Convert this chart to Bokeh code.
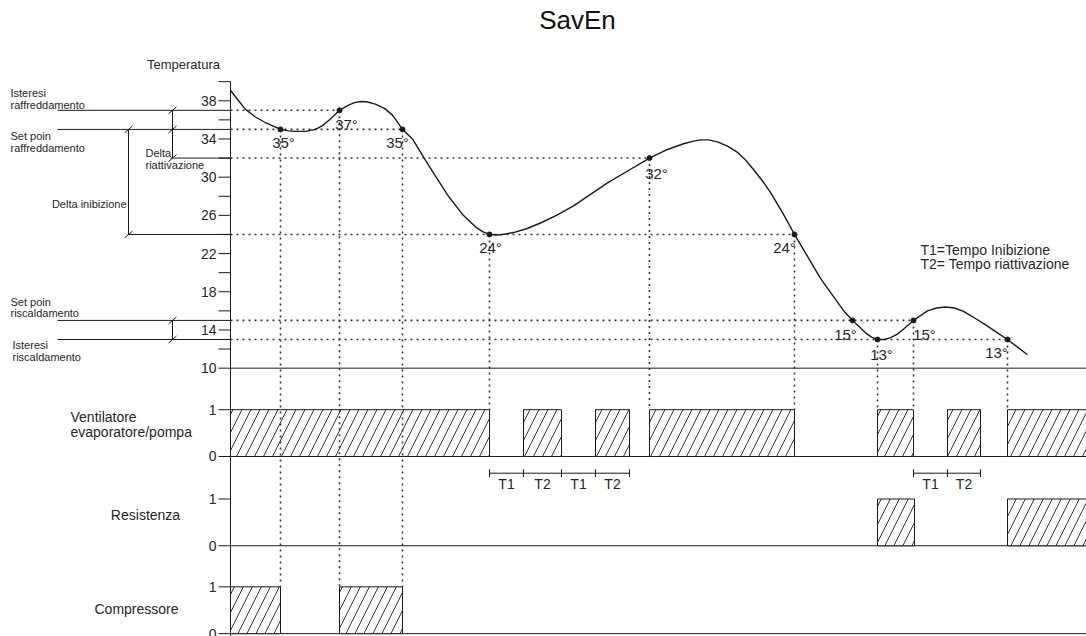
from bokeh.plotting import figure
from bokeh.models import Range1d, ColumnDataSource
from bokeh.core.properties import value
from bokeh.embed import file_html
from bokeh.resources import INLINE

# ---------------- data ----------------
title = "SavEn"
y_title = "Temperatura"

# temperature curve: time (arbitrary units), temperature (°C)
curve_t = [0, 8, 15, 25, 35, 50, 58, 65, 75, 85, 92, 100, 109, 118, 124, 130, 136, 145, 154,
           162, 172, 182, 193, 205, 218, 232, 245, 252, 259, 266, 272, 283, 296, 310, 326, 343,
           360, 377, 398, 419, 437, 453, 462, 470, 478, 487, 497, 507, 515, 523, 532, 540, 553,
           564, 577, 590, 605, 614, 622, 629, 635, 641, 647, 654, 660, 666, 672, 683, 690, 697,
           706, 715, 724, 733, 745, 757, 767, 777, 787, 797]
curve_T = [39.1, 38.0, 37.1, 36.3, 35.7, 35.0, 34.85, 34.8, 34.8, 35.0, 35.4, 36.1, 37.0, 37.55,
           37.8, 37.92, 37.9, 37.65, 37.2, 36.5, 35.0, 34.0, 32.1, 30.1, 28.0, 26.1, 24.8, 24.3,
           24.0, 23.95, 24.0, 24.2, 24.6, 25.2, 26.0, 27.0, 28.2, 29.4, 30.7, 32.0, 32.9, 33.5,
           33.75, 33.9, 33.9, 33.7, 33.25, 32.6, 31.8, 30.8, 29.6, 28.4, 26.1, 24.0, 21.7, 19.4,
           17.2, 15.9, 15.0, 14.3, 13.7, 13.25, 13.0, 13.0, 13.2, 13.5, 14.0, 15.0, 15.5, 16.0,
           16.3, 16.4, 16.3, 15.95, 15.2, 14.4, 13.7, 13.0, 12.2, 11.4]

# marked points
key_t = [50, 109, 172, 259, 419, 564, 622, 647, 683, 777]
key_T = [35, 37, 35, 24, 32, 24, 15, 13, 15, 13]
key_drop = ["Compressore", "Compressore", "Compressore", "Ventilatore", "Ventilatore",
            "Ventilatore", "", "Ventilatore", "Ventilatore", "Ventilatore"]

# on/off intervals of the outputs
vent_on = [0, 293, 365, 419, 647, 717, 777]
vent_off = [259, 331, 399, 564, 683, 750, 860]
res_on = [647, 777]
res_off = [684, 860]
comp_on = [0, 109]
comp_off = [50, 172]

# T1 / T2 timing marks
tt_edges_a = [259, 293, 331, 365, 399]
tt_labels_a = ["T1", "T2", "T1", "T2"]
tt_edges_b = [683, 717, 750]
tt_labels_b = ["T1", "T2"]

temp_major = [38, 34, 30, 26, 22, 18, 14, 10]
temp_minor = [40, 36, 32, 28, 24, 20, 16, 12]

# left-hand thresholds
thr_isteresi_raff = 37
thr_set_raff = 35
thr_riatt = 32
thr_inib = 24
thr_set_risc = 15
thr_isteresi_risc = 13

legend_lines = ["T1=Tempo Inibizione", "T2= Tempo riattivazione"]

# ---------------- layout constants ----------------
T_END = 856
PX = 9.55            # px per degree
FONT = "Liberation Sans"
INK = "#1a1a1a"
TXT = "#262626"

panel_base = {"Ventilatore": 0.75, "Resistenza": -8.6, "Compressore": -17.8}
PANEL_H = 4.9
panel_top = {k: v + PANEL_H for k, v in panel_base.items()}

p = figure(width=1086, height=636, x_range=Range1d(-230, T_END), y_range=Range1d(-18.1, 48.5),
           output_backend="svg", toolbar_location=None,
           x_axis_location=None, y_axis_location=None,
           min_border_left=0, min_border_right=0, min_border_top=0, min_border_bottom=0,
           outline_line_color=None, background_fill_color="white", border_fill_color="white")
p.grid.visible = False


def txt(x, y, text, size, align="left", color=TXT, **kw):
    p.text(x=x, y=y, text=text, text_align=align, text_baseline="middle",
           text_font=value(FONT), text_font_size=size, text_color=color, **kw)


# ---- vertical temperature / state axis ----
sig_ticks, sig_labels = [], []
for k in ["Ventilatore", "Resistenza", "Compressore"]:
    sig_ticks += [panel_base[k], panel_top[k]]
    sig_labels += ["0", "1"]
all_ticks = temp_major + temp_minor + sig_ticks
p.segment(x0=[0], y0=[-18.1], x1=[0], y1=[max(temp_minor)], line_color=INK, line_width=1)
p.segment(x0=[-12] * len(all_ticks), y0=all_ticks, x1=[0] * len(all_ticks), y1=all_ticks,
          line_color=INK, line_width=1)
lab_vals = temp_major + sig_ticks
lab_txt = [str(t) for t in temp_major] + sig_labels
txt([-14] * len(lab_vals), lab_vals, lab_txt, "14px", align="right")

# baselines
base_levels = [10] + [panel_base[k] for k in panel_base]
p.segment(x0=[0] * len(base_levels), y0=base_levels, x1=[T_END] * len(base_levels),
          y1=base_levels, line_color=INK, line_width=1)

# hatched output bars
for name, ons, offs in [("Ventilatore", vent_on, vent_off), ("Resistenza", res_on, res_off),
                        ("Compressore", comp_on, comp_off)]:
    p.quad(left=ons, right=offs, bottom=[panel_base[name]] * len(ons),
           top=[panel_top[name]] * len(ons), fill_color="white", line_color=INK, line_width=1,
           hatch_pattern="/", hatch_scale=18, hatch_color="#333333", hatch_weight=1)

# dotted horizontal guide lines (from axis to last point at that temperature)
h_end = {}
for t, T in zip(key_t, key_T):
    h_end[T] = max(h_end.get(T, 0), t)
hT = list(h_end.keys())
p.segment(x0=[0] * len(hT), y0=hT, x1=[h_end[T] for T in hT], y1=hT,
          line_color="#333333", line_width=1.6, line_dash="2 4")

# dotted vertical guide lines
vx = [t for t, d in zip(key_t, key_drop) if d]
vy0 = [T for T, d in zip(key_T, key_drop) if d]
vy1 = [panel_top[d] for d in key_drop if d]
p.segment(x0=vx, y0=vy0, x1=vx, y1=vy1, line_color="#333333", line_width=1.6, line_dash="2 4")

# curve + points
p.line(curve_t, curve_T, line_color=INK, line_width=1.4, line_join="round")
p.scatter(key_t, key_T, size=5, color=INK)

lab_dx = [3, 7, -5, 1, 7, -10, -7, 4, 11, -11]
lab_dy = [13, 14, 13, 13, 15, 13, 14, 15, 14, 13]
src_lab = ColumnDataSource(dict(x=key_t, y=key_T, text=[f"{T}°" for T in key_T],
                                dx=lab_dx, dy=lab_dy))
p.text(x="x", y="y", text="text", x_offset="dx", y_offset="dy", source=src_lab,
       text_align="center", text_baseline="middle", text_font=value(FONT),
       text_font_size="15px", text_color=TXT)

# T1 / T2 marks
TT_Y = -1.0
for edges, labels in [(tt_edges_a, tt_labels_a), (tt_edges_b, tt_labels_b)]:
    p.segment(x0=[edges[0]], y0=[TT_Y], x1=[edges[-1]], y1=[TT_Y], line_color=INK, line_width=1)
    p.segment(x0=edges, y0=[TT_Y - 0.4] * len(edges), x1=edges, y1=[TT_Y + 0.4] * len(edges),
              line_color=INK, line_width=1)
    mids = [(a + b) / 2 for a, b in zip(edges[:-1], edges[1:])]
    txt(mids, [TT_Y - 1.1] * len(mids), labels, "14px", align="center")

# left-hand threshold lines with dimension brackets
seg = dict(x0=[], y0=[], x1=[], y1=[])


def add_seg(a, b, c, d):
    seg["x0"].append(a); seg["y0"].append(b); seg["x1"].append(c); seg["y1"].append(d)


for T in [thr_isteresi_raff, thr_set_raff, thr_set_risc, thr_isteresi_risc]:
    add_seg(-173, T, 0, T)
add_seg(-60, thr_riatt, 0, thr_riatt)
add_seg(-102, thr_inib, 0, thr_inib)
add_seg(-58, thr_isteresi_raff, -58, thr_riatt)
add_seg(-102, thr_set_raff, -102, thr_inib)
add_seg(-58, thr_set_risc, -58, thr_isteresi_risc)
for (xs, T) in [(-58, thr_isteresi_raff), (-58, thr_set_raff), (-58, thr_riatt),
                (-102, thr_set_raff), (-102, thr_inib), (-58, thr_set_risc),
                (-58, thr_isteresi_risc)]:
    add_seg(xs - 4, T - 3.5 / PX, xs + 4, T + 3.5 / PX)
p.segment(x0="x0", y0="y0", x1="x1", y1="y1", source=ColumnDataSource(seg),
          line_color=INK, line_width=1)

small = "11px"
txt([-220, -220, -220, -220], [38.83, 37.57, 34.32, 33.06],
    ["Isteresi", "raffreddamento", "Set poin", "raffreddamento"], small)
txt([-85, -85], [32.54, 31.28], ["Delta", "riattivazione"], small)
txt([-104], [27.2], ["Delta inibizione"], small, align="right")
txt([-220, -220, -218, -218], [16.94, 15.79, 12.44, 11.18],
    ["Set poin", "riscaldamento", "Isteresi", "riscaldamento"], small)

txt([-47], [41.76], [y_title], "13px", align="center")
txt([-160, -160], [4.9, 3.33], ["Ventilatore", "evaporatore/pompa"], "14px")
txt([-85], [-5.36], ["Resistenza"], "14px", align="center")
txt([-94], [-15.2], ["Compressore"], "14px", align="center")

txt([690, 690], [22.4, 20.93], legend_lines, "14px")

txt([347], [46.45], [title], "26px", align="center", color="#111111")

open("out.html", "w").write(file_html(p, INLINE))
